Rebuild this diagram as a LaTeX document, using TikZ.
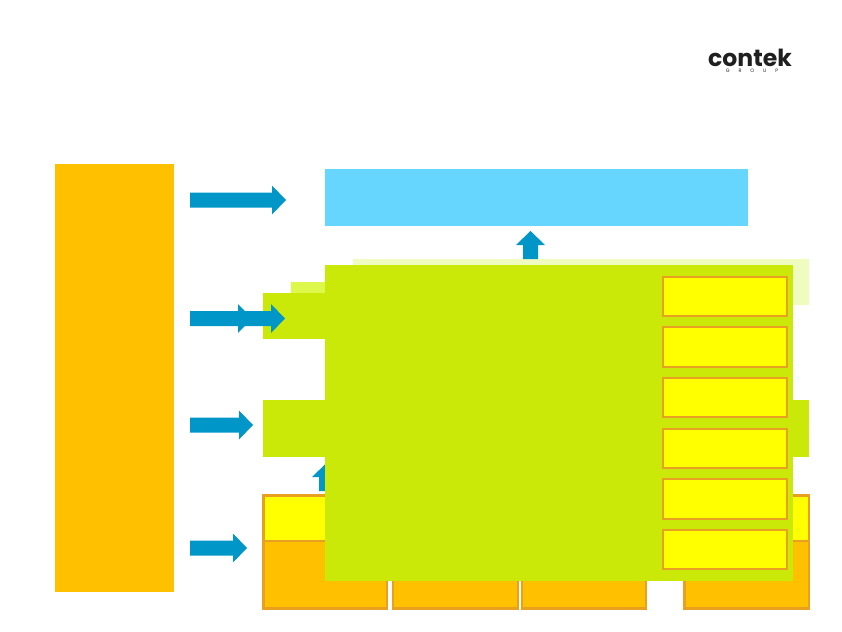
\documentclass[tikz,border=0pt]{standalone}
\usepackage{fontspec}
\setmainfont{Poppins}
\definecolor{panelorange}{HTML}{FFC000}
\definecolor{panelblue}{HTML}{66D6FF}
\definecolor{arrowblue}{HTML}{0096C8}
\definecolor{limegreen}{HTML}{CBE908}
\definecolor{limemid}{HTML}{DDF84A}
\definecolor{limepale}{HTML}{F0FBC0}
\definecolor{edgeorange}{HTML}{E8A020}
\definecolor{cellyellow}{HTML}{FFFF00}
\tikzset{
    cell/.style={draw=edgeorange, line width=1.2pt},
    blockarrow/.style={fill=arrowblue, draw=none}
}
% tail x, tip x, middle y
\newcommand{\rightarrowblock}[3]{
    \fill[blockarrow] (#1,#3-7.5) -- (#2-14,#3-7.5) -- (#2-14,#3-14.5) -- (#2,#3)
        -- (#2-14,#3+14.5) -- (#2-14,#3+7.5) -- (#1,#3+7.5) -- cycle;
}
% middle x, tail y, tip y
\newcommand{\uparrowblock}[3]{
    \fill[blockarrow] (#1-7.5,#2) -- (#1-7.5,#3+14) -- (#1-14.5,#3+14) -- (#1,#3)
        -- (#1+14.5,#3+14) -- (#1+7.5,#3+14) -- (#1+7.5,#2) -- cycle;
}
\begin{document}
\begin{tikzpicture}[x=0.02cm, y=-0.02cm]
    \useasboundingbox (0,0) rectangle (842,632);

    % Logo
    \node[font=\bfseries\fontsize{13.4pt}{14pt}\selectfont, text=black!88, inner sep=0pt] (logo) at (750,57.5) {contek};
    \node[font=\fontsize{2.8pt}{3pt}\selectfont\addfontfeature{LetterSpace=180}, text=black!88, inner sep=0pt] (logosub) at (752,71) {GROUP};

    % Left column and top band
    \fill[panelorange] (55,164) rectangle (174,592);
    \fill[panelblue] (325,169) rectangle (748,226);

    % Layers behind the main block
    \fill[limepale] (353,259) rectangle (809,305);
    \fill[limemid] (291,282) rectangle (400,320);
    \fill[limegreen] (263,293) rectangle (400,339);
    \fill[limegreen] (263,400) rectangle (809,457);

    % Bottom row
    \filldraw[cell, fill=cellyellow] (263.5,495.5) rectangle (809,541);
    \filldraw[cell, fill=panelorange] (263.5,541) rectangle (387,608.5);
    \filldraw[cell, fill=panelorange] (393,541) rectangle (518,608.5);
    \filldraw[cell, fill=panelorange] (522,541) rectangle (646,608.5);
    \filldraw[cell, fill=panelorange] (684.5,541) rectangle (809,608.5);

    % Arrows
    \rightarrowblock{190}{286}{200}
    \rightarrowblock{190}{252}{318.5}
    \rightarrowblock{240}{285}{318.5}
    \rightarrowblock{190}{253}{425}
    \rightarrowblock{190}{247}{548}
    \uparrowblock{530.5}{259}{231}
    \uparrowblock{326.5}{491}{463}

    % Main block
    \fill[limegreen] (325,265) rectangle (793,581);

    % Right column of cells
    \foreach \top/\bottom in {277/316, 327/367, 378/417, 429/468, 479/519, 530/569}
        \filldraw[cell, fill=cellyellow] (663,\top) rectangle (787,\bottom);
\end{tikzpicture}
\end{document}
